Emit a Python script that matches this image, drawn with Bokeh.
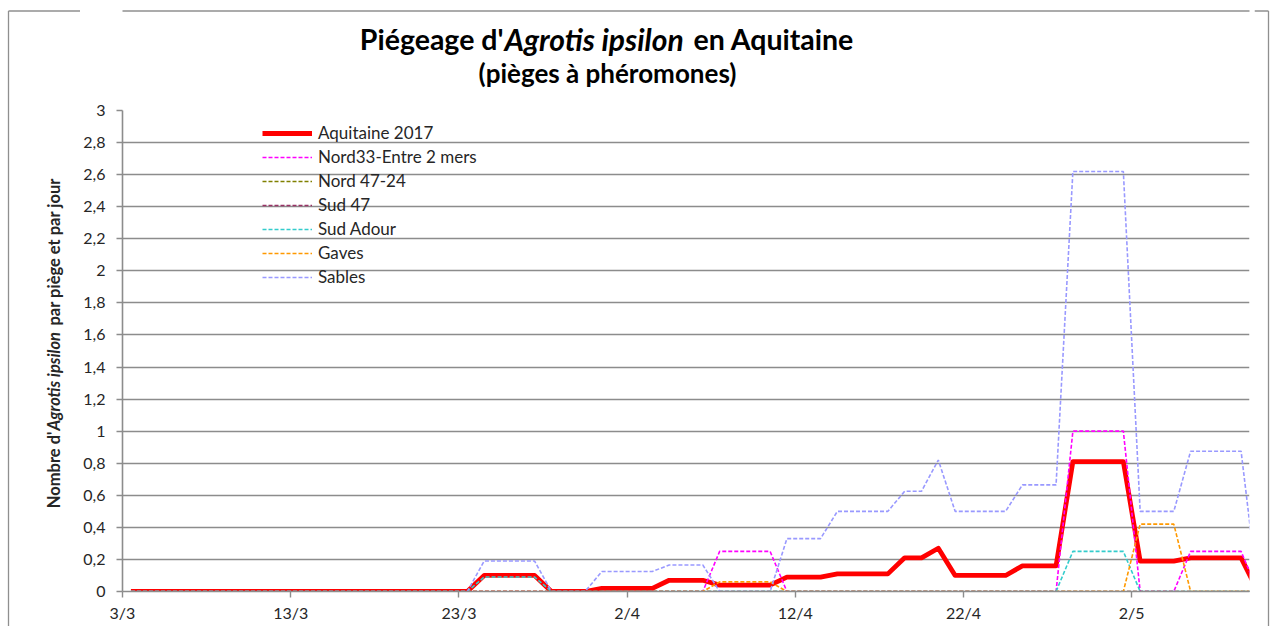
import math
import pandas as pd
from bokeh.plotting import figure
from bokeh.layouts import column, row
from bokeh.models import Range1d, FixedTicker, Legend, LegendItem
from bokeh.core.properties import value
from bokeh.embed import file_html
from bokeh.resources import INLINE

# ---------------- data ----------------
start_date = "2017-03-03"
end_date = "2017-05-09"

dates = ["2017-03-03", "2017-03-23", "2017-03-24", "2017-03-27", "2017-03-28",
         "2017-03-30", "2017-03-31", "2017-04-03", "2017-04-04", "2017-04-06",
         "2017-04-07", "2017-04-10", "2017-04-11", "2017-04-13", "2017-04-14",
         "2017-04-17", "2017-04-18", "2017-04-19", "2017-04-20", "2017-04-21",
         "2017-04-24", "2017-04-25", "2017-04-27", "2017-04-28", "2017-05-01",
         "2017-05-02", "2017-05-04", "2017-05-05", "2017-05-08", "2017-05-09"]

aquitaine = [0, 0, 0.10, 0.10, 0, 0, 0.02, 0.02, 0.07, 0.07,
             0.04, 0.04, 0.09, 0.09, 0.11, 0.11, 0.21, 0.21, 0.27, 0.10,
             0.10, 0.16, 0.16, 0.81, 0.81, 0.19, 0.19, 0.21, 0.21, 0]
nord33 = [0, 0, 0, 0, 0, 0, 0, 0, 0, 0,
          0.25, 0.25, 0, 0, 0, 0, 0, 0, 0, 0,
          0, 0, 0, 1.0, 1.0, 0, 0, 0.25, 0.25, 0]
nord4724 = [0, 0, 0, 0, 0, 0, 0, 0, 0, 0,
            0, 0, 0, 0, 0, 0, 0, 0, 0, 0,
            0, 0, 0, 0, 0, 0, 0, 0, 0, 0]
sud47 = [0, 0, 0, 0, 0, 0, 0, 0, 0, 0,
         0, 0, 0, 0, 0, 0, 0, 0, 0, 0,
         0, 0, 0, 0, 0, 0, 0, 0, 0, 0]
sud_adour = [0, 0, 0.09, 0.09, 0, 0, 0, 0, 0, 0,
             0, 0, 0, 0, 0, 0, 0, 0, 0, 0,
             0, 0, 0, 0.25, 0.25, 0, 0, 0, 0, 0]
gaves = [0, 0, 0, 0, 0, 0, 0, 0, 0, 0,
         0.06, 0.06, 0, 0, 0, 0, 0, 0, 0, 0,
         0, 0, 0, 0, 0, 0.42, 0.42, 0, 0, 0]
sables = [0, 0, 0.19, 0.19, 0, 0, 0.125, 0.125, 0.165, 0.165,
          0, 0, 0.33, 0.33, 0.50, 0.50, 0.625, 0.625, 0.82, 0.50,
          0.50, 0.665, 0.665, 2.62, 2.62, 0.50, 0.50, 0.875, 0.875, 0]

series_names = ["Aquitaine 2017", "Nord33-Entre 2 mers", "Nord 47-24", "Sud 47",
                "Sud Adour", "Gaves", "Sables"]
series_values = [aquitaine, nord33, nord4724, sud47, sud_adour, gaves, sables]
series_colors = ["#FF0000", "#FF00FF", "#808000", "#993366", "#33CCCC", "#FF9900", "#9999FF"]

x_tick_dates = ["2017-03-03", "2017-03-13", "2017-03-23", "2017-04-02",
                "2017-04-12", "2017-04-22", "2017-05-02"]
x_tick_labels = ["3/3", "13/3", "23/3", "2/4", "12/4", "22/4", "2/5"]
y_ticks = [0, 0.2, 0.4, 0.6, 0.8, 1.0, 1.2, 1.4, 1.6, 1.8, 2.0, 2.2, 2.4, 2.6, 2.8, 3.0]
y_tick_labels = ["0", "0,2", "0,4", "0,6", "0,8", "1", "1,2", "1,4", "1,6", "1,8",
                 "2", "2,2", "2,4", "2,6", "2,8", "3"]

title_parts = ["Piégeage d'", "Agrotis ipsilon", "en Aquitaine"]
subtitle = "(pièges à phéromones)"
ylabel_parts = ["Nombre d'", "Agrotis ipsilon", "par piège et par jour"]

# ---------------- conversion to day offsets ----------------
t0 = pd.Timestamp(start_date)
xs = [(pd.Timestamp(d) - t0).days + 0.5 for d in dates]          # points centred in their day
x_ticks = [(pd.Timestamp(d) - t0).days for d in x_tick_dates]
x_end = (pd.Timestamp(end_date) - t0).days

FONT = "Lato"
GRID = "#8c8c8c"
BORDER = "#8f8f8f"
TXT = "#262626"
W, H = 1270, 626
TOP_H = 96      # height of the title strip
LEFT_W = 80     # width of the left strip (y title)
RIGHT_W = 16    # width of the right border strip
MID_W = W - LEFT_W - RIGHT_W
FRAME_L, FRAME_R = 122, 1249   # page x of the plot area edges
TOP_LINE = 10.5


def blank(width, height, xr, yr):
    f = figure(width=width, height=height, output_backend="svg", toolbar_location=None,
               title=None, x_range=xr, y_range=yr, x_axis_type=None, y_axis_type=None,
               min_border=0, align="start")
    f.min_border_left = f.min_border_right = f.min_border_top = f.min_border_bottom = 0
    f.outline_line_color = None
    f.grid.visible = False
    f.background_fill_color = "white"
    f.border_fill_color = "white"
    return f


# ---- left strip: full height (coordinates are page pixels) ----
yl = blank(LEFT_W, H, Range1d(0, LEFT_W), Range1d(H, 0))
yl.segment(x0=[8, 8], y0=[TOP_LINE, TOP_LINE], x1=[8, LEFT_W], y1=[H, TOP_LINE],
           line_color=BORDER, line_width=1.3)
yl.text(x=[53], y=[431], text=[ylabel_parts[0]], text_font=value(FONT), text_font_size="16.5px",
        text_font_style="bold", text_align="right", text_baseline="middle",
        angle=math.pi / 2, text_color=TXT)
yl.text(x=[53], y=[430], text=[ylabel_parts[1]], text_font=value(FONT), text_font_size="16.5px",
        text_font_style="bold italic", text_align="left", text_baseline="middle",
        angle=math.pi / 2, text_color=TXT)
yl.text(x=[53], y=[325], text=[ylabel_parts[2]], text_font=value(FONT), text_font_size="16.5px",
        text_font_style="bold", text_align="left", text_baseline="middle",
        angle=math.pi / 2, text_color=TXT)

# ---- title strip: its frame is aligned with the plot area (page pixel coordinates) ----
t = blank(MID_W, TOP_H, Range1d(FRAME_L, FRAME_R), Range1d(TOP_H, 0))
t.segment(x0=[FRAME_L - 50], y0=[TOP_LINE], x1=[FRAME_R + 50], y1=[TOP_LINE],
          line_color=BORDER, line_width=1.3)
t.text(x=[503], y=[38], text=[title_parts[0]], text_font=value(FONT), text_font_size="28.5px",
       text_font_style="bold", text_align="right", text_baseline="middle", text_color="black")
t.text(x=[504], y=[38], text=[title_parts[1]], text_font=value(FONT), text_font_size="30px",
       text_font_style="bold italic", text_align="left", text_baseline="middle", text_color="black")
t.text(x=[693], y=[38], text=[title_parts[2]], text_font=value(FONT), text_font_size="28.5px",
       text_font_style="bold", text_align="left", text_baseline="middle", text_color="black")
t.text(x=[607], y=[72], text=[subtitle], text_font=value(FONT), text_font_size="26px",
       text_font_style="bold", text_align="center", text_baseline="middle", text_color="black")

# ---- right strip: full height ----
rs = blank(RIGHT_W, H, Range1d(W - RIGHT_W, W), Range1d(H, 0))
rs.segment(x0=[W - RIGHT_W, W - 2], y0=[TOP_LINE, TOP_LINE], x1=[W - 2, W - 2], y1=[TOP_LINE, H],
           line_color=BORDER, line_width=1.3)

# ---- main chart ----
p = figure(width=MID_W, height=H - TOP_H, output_backend="svg", align="start",
           toolbar_location=None, title=None, x_range=Range1d(0, x_end), y_range=Range1d(0, 3),
           min_border_left=FRAME_L - LEFT_W, min_border_right=W - RIGHT_W - FRAME_R,
           min_border_top=110 - TOP_H, min_border_bottom=35)
p.background_fill_color = "white"
p.border_fill_color = "white"
p.outline_line_color = None

p.xgrid.visible = False
p.ygrid.ticker = FixedTicker(ticks=y_ticks)
p.ygrid.grid_line_color = GRID
p.ygrid.grid_line_width = 1.6

for ax in (p.xaxis[0], p.yaxis[0]):
    ax.axis_line_color = GRID
    ax.axis_line_width = 1.6
    ax.major_tick_line_color = GRID
    ax.major_tick_line_width = 1.4
    ax.major_tick_in = 0
    ax.major_tick_out = 6
    ax.minor_tick_line_color = None
    ax.major_label_text_font = FONT
    ax.major_label_text_font_size = "16px"
    ax.major_label_text_color = TXT

p.xaxis.ticker = FixedTicker(ticks=x_ticks)
p.xaxis.major_label_overrides = {tk: lb for tk, lb in zip(x_ticks, x_tick_labels)}
p.xaxis.major_label_standoff = 5
p.yaxis.ticker = FixedTicker(ticks=y_ticks)
p.yaxis.major_label_overrides = {tk: lb for tk, lb in zip(y_ticks, y_tick_labels)}
p.yaxis.major_label_standoff = 11

renderers = []
for name, vals, col in zip(series_names, series_values, series_colors):
    if name == "Aquitaine 2017":
        r = p.line(xs, vals, line_color=col, line_width=4.8, line_join="round")
    else:
        r = p.line(xs, vals, line_color=col, line_width=1.6, line_dash="4 2")
    renderers.append(r)

legend = Legend(items=[LegendItem(label=n, renderers=[r]) for n, r in zip(series_names, renderers)],
                location=(140, 304), orientation="vertical")
legend.border_line_color = None
legend.background_fill_alpha = 0
legend.padding = 0
legend.margin = 0
legend.spacing = 3
legend.glyph_width = 50
legend.glyph_height = 20
legend.label_height = 20
legend.label_standoff = 6
legend.label_text_font = FONT
legend.label_text_font_size = "17px"
legend.label_text_color = TXT
legend.label_text_baseline = "middle"
p.add_layout(legend)

layout = row(yl, column(t, p, spacing=0, align="start"), rs, spacing=0)
open("out.html", "w").write(file_html(layout, INLINE))
